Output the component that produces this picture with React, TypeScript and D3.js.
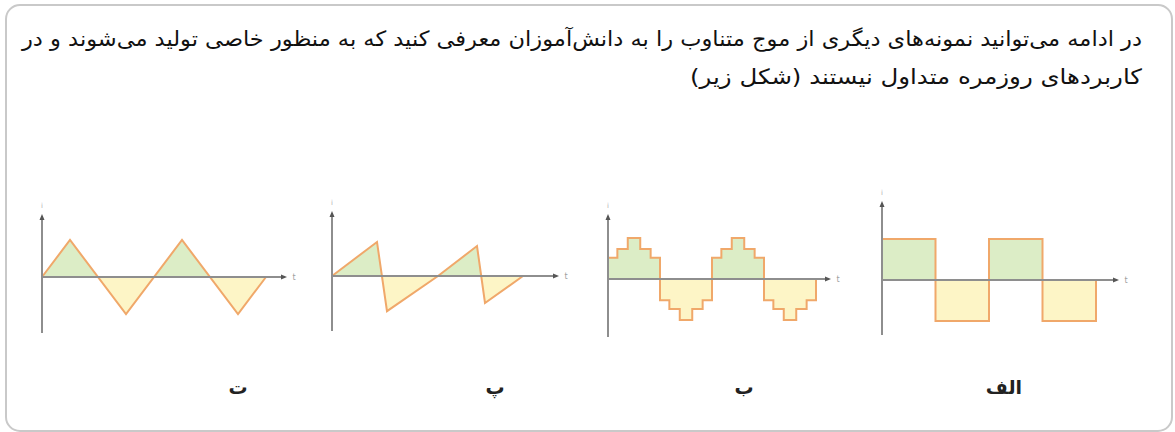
import React from "react";
import * as d3 from "d3";

// ---- text ----
const paragraphLines = [
  "در ادامه می‌توانید نمونه‌های دیگری از موج متناوب را به دانش‌آموزان معرفی کنید که به منظور خاصی تولید می‌شوند و در",
  "کاربردهای روزمره متداول نیستند (شکل زیر)",
];
const panelLabels = ["ت", "پ", "ب", "الف"];

// ---- wave data (time in half-periods, value normalised to amplitude) ----
const triangleT = [0, 0.5, 1.5, 2.5, 3.5, 4];
const triangleV = [0, 1, -1, 1, -1, 0];

const sawT = [0, 0.9, 1.1, 2.12, 2.9, 3.06, 3.82];
const sawV = [0, 0.92, -0.95, 0, 0.81, -0.73, 0];

const stepT = [0, 0, 0.18, 0.38, 0.62, 0.82, 1, 1.18, 1.38, 1.62, 1.82, 2, 2.18, 2.38, 2.62, 2.82, 3, 3.18, 3.38, 3.62, 3.82, 4];
const stepV = [0, 0.52, 0.73, 1, 0.73, 0.52, -0.52, -0.73, -1, -0.73, -0.52, 0.52, 0.73, 1, 0.73, 0.52, -0.52, -0.73, -1, -0.73, -0.52, 0];

const squareT = [0, 0, 1, 2, 3, 4];
const squareV = [0, 1, -1, 1, -1, 0];

type Panel = {
  t: number[];
  v: number[];
  step: boolean;
  ax: number;
  ay: number;
  xEnd: number;
  amp: number;
  yTop: number;
  yBot: number;
  arrowX: number;
};

const panels: Panel[] = [
  { t: triangleT, v: triangleV, step: false, ax: 42, ay: 277, xEnd: 266, amp: 37, yTop: 216, yBot: 333, arrowX: 287 },
  { t: sawT, v: sawV, step: false, ax: 332, ay: 276, xEnd: 532, amp: 37, yTop: 213, yBot: 331, arrowX: 559 },
  { t: stepT, v: stepV, step: true, ax: 608, ay: 279, xEnd: 816, amp: 41, yTop: 216, yBot: 337, arrowX: 831 },
  { t: squareT, v: squareV, step: true, ax: 882, ay: 280, xEnd: 1096, amp: 41, yTop: 203, yBot: 335, arrowX: 1119 },
];
const labelX = [238, 495, 744, 1004];

const AXIS = "#8e8e8e";
const WAVE = "#f0a86a";
const GREEN = "#dcedc6";
const YELLOW = "#fdf5c6";

function WavePanel({ p, idx }: { p: Panel; idx: number }) {
  const x = d3.scaleLinear().domain([0, 4]).range([p.ax, p.xEnd]);
  const y = d3.scaleLinear().domain([-1, 1]).range([p.ay + p.amp, p.ay - p.amp]);
  const pts: [number, number][] = p.t.map((t, i) => [t, p.v[i]]);
  const curve = p.step ? d3.curveStepAfter : d3.curveLinear;
  const line = d3.line<[number, number]>().x((d) => x(d[0])).y((d) => y(d[1])).curve(curve);
  const area = d3
    .area<[number, number]>()
    .x((d) => x(d[0]))
    .y0(y(0))
    .y1((d) => y(d[1]))
    .curve(curve);
  const pathD = line(pts) || "";
  const areaD = area(pts) || "";
  const upId = `up${idx}`;
  const dnId = `dn${idx}`;
  return (
    <g>
      <defs>
        <clipPath id={upId}>
          <rect x={p.ax - 5} y={p.ay - 80} width={p.xEnd - p.ax + 20} height={80} />
        </clipPath>
        <clipPath id={dnId}>
          <rect x={p.ax - 5} y={p.ay} width={p.xEnd - p.ax + 20} height={80} />
        </clipPath>
      </defs>
      <path d={areaD} fill={GREEN} clipPath={`url(#${upId})`} />
      <path d={areaD} fill={YELLOW} clipPath={`url(#${dnId})`} />
      <path d={pathD} fill="none" stroke={WAVE} strokeWidth={2} strokeLinejoin="miter" />
      {/* axes */}
      <line x1={p.ax} x2={p.ax} y1={p.yTop} y2={p.yBot} stroke={AXIS} strokeWidth={2} />
      <line x1={p.ax} x2={p.arrowX - 4} y1={y(0)} y2={y(0)} stroke={AXIS} strokeWidth={2} />
      <path d={`M${p.ax - 2.5},${p.yTop + 4} L${p.ax},${p.yTop - 2} L${p.ax + 2.5},${p.yTop + 4} Z`} fill="#555" />
      <path d={`M${p.arrowX - 6},${y(0) - 2.5} L${p.arrowX},${y(0)} L${p.arrowX - 6},${y(0) + 2.5} Z`} fill="#555" />
      <text x={p.ax} y={p.yTop - 8} fontSize={7} fill="#b0b0b0" textAnchor="middle" fontFamily="DejaVu Sans">i</text>
      <text x={p.arrowX + 7} y={y(0) + 3} fontSize={8} fill="#a0a0a0" textAnchor="middle" fontFamily="DejaVu Sans">t</text>
    </g>
  );
}

export default function App() {
  return (
    <svg
      width={1175}
      height={432}
      style={{ position: "absolute", left: 0, top: 0, background: "#fff" }}
      fontFamily="DejaVu Sans"
    >
      <rect x={6} y={5} width={1166} height={426} rx={14} fill="#fff" stroke="#c9c9c9" strokeWidth={2} />
      <text x={1142} y={46} direction="rtl" textAnchor="start" fontSize={21} fill="#111"
        textLength={1120} lengthAdjust="spacingAndGlyphs">
        {paragraphLines[0]}
      </text>
      <text x={1142} y={84} direction="rtl" textAnchor="start" fontSize={21} fill="#111"
        textLength={452} lengthAdjust="spacingAndGlyphs">
        {paragraphLines[1]}
      </text>
      {panels.map((p, i) => (
        <WavePanel key={i} p={p} idx={i} />
      ))}
      {panelLabels.map((l, i) => (
        <text key={l} x={labelX[i]} y={394} textAnchor="middle" fontSize={19} fontWeight="bold" fill="#222">
          {l}
        </text>
      ))}
    </svg>
  );
}
